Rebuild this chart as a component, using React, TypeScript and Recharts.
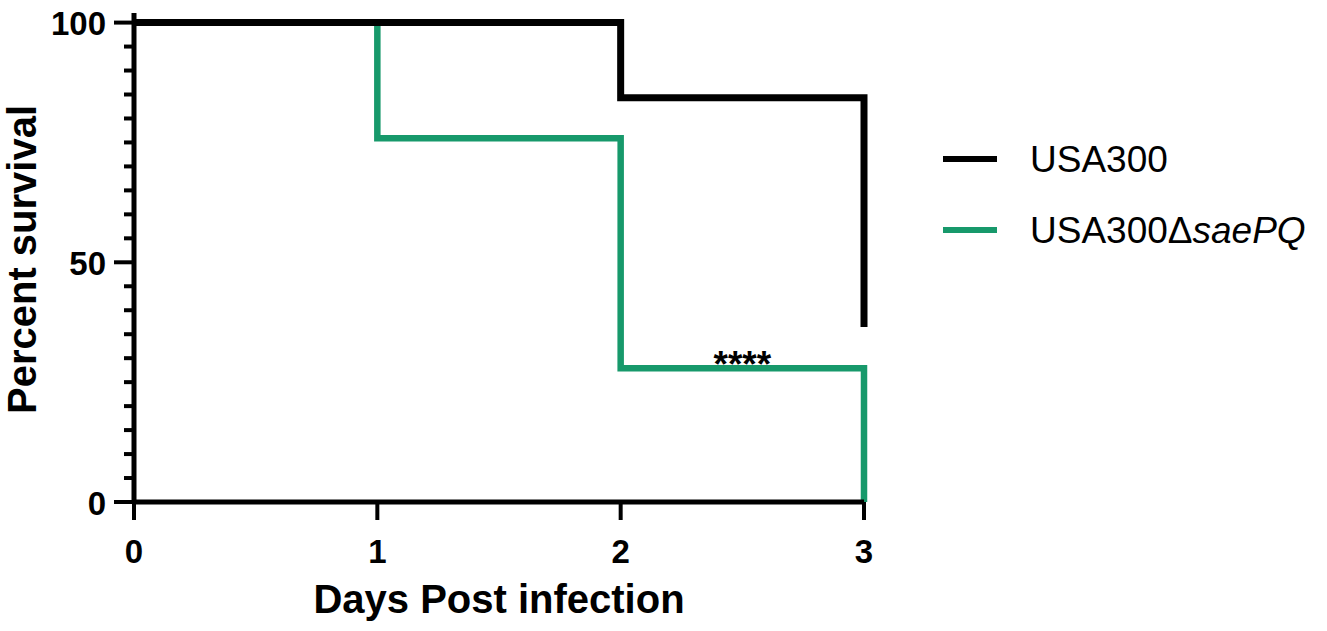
import React from 'react';
import { LineChart, Line, XAxis, YAxis, Legend, ReferenceDot, Label } from 'recharts';

// Kaplan-Meier survival
const xTicks = [0, 1, 2, 3];
const wtDays = [0, 2, 3];
const wtSurvival = [100, 84.3, 36.5];
const mutDays = [0, 1, 2, 3];
const mutSurvival = [100, 75.9, 27.9, 0];
const yMajorTicks = [0, 50, 100];
const yTicks = [0, 5, 10, 15, 20, 25, 30, 35, 40, 45, 50, 55, 60, 65, 70, 75, 80, 85, 90, 95, 100];
const seriesNames = ['USA300', 'USA300\u0394'];
const seriesItalic = ['', 'saePQ'];
const seriesColors = ['#000000', '#17996B'];
const significance = '****';

const FONT = 'Arial, "Liberation Sans", Helvetica, sans-serif';

const wtData = wtDays.map((d, i) => ({ day: d, survival: wtSurvival[i] }));
const mutData = mutDays.map((d, i) => ({ day: d, survival: mutSurvival[i] }));

const YTick = (props: any) => {
    const { x, y, payload } = props;
    const major = yMajorTicks.includes(payload.value);
    return (
        <g>
            <line x1={x} x2={x - (major ? 20 : 10)} y1={y} y2={y} stroke="#000" strokeWidth={4} />
            {major && (
                <text x={x - 28} y={y + 1} dy="0.355em" textAnchor="end" fontFamily={FONT} fontWeight="bold" fontSize={33} fill="#000">
                    {payload.value}
                </text>
            )}
        </g>
    );
};

const XTick = (props: any) => {
    const { x, y, payload } = props;
    return (
        <g>
            <line x1={x} x2={x} y1={y} y2={y + 18} stroke="#000" strokeWidth={4} />
            <text x={x} y={y + 49} dy="0.355em" textAnchor="middle" fontFamily={FONT} fontWeight="bold" fontSize={33} fill="#000">
                {payload.value}
            </text>
        </g>
    );
};

const YTitle = (props: any) => {
    const vb = props.viewBox;
    const cx = vb.x + 36;
    const cy = vb.y + vb.height / 2 + 2;
    return (
        <text x={cx} y={cy} transform={`rotate(-90, ${cx}, ${cy})`} textAnchor="middle" fontFamily={FONT} fontWeight="bold" fontSize={40} fill="#000">
            Percent survival
        </text>
    );
};

const Stars = (props: any) => {
    const vb = props.viewBox;
    return (
        <text x={vb.x} y={vb.y + 9} textAnchor="middle" fontFamily={FONT} fontWeight="bold" fontSize={37} fill="#000">
            {significance}
        </text>
    );
};

const renderLegend = () => (
    <div style={{ fontFamily: FONT }}>
        {seriesNames.map((name, i) => (
            <div key={name} style={{ display: 'flex', alignItems: 'center', height: 71 }}>
                <span style={{ display: 'inline-block', width: 54, height: 6.5, background: seriesColors[i], marginRight: 33 }} />
                <span style={{ fontSize: 37, lineHeight: 1, color: '#000', whiteSpace: 'nowrap' }}>
                    {name}
                    {seriesItalic[i] && <i>{seriesItalic[i]}</i>}
                </span>
            </div>
        ))}
    </div>
);

const App: React.FC = () => {
    return (
        <div style={{ position: 'absolute', left: 0, top: 0, background: '#fff' }}>
            <LineChart width={1327} height={631} margin={{ top: 13, right: 463, bottom: 0, left: 0 }}>
                <XAxis
                    type="number"
                    dataKey="day"
                    domain={[0, 3]}
                    ticks={xTicks}
                    interval={0}
                    height={129}
                    tickSize={0}
                    tickMargin={0}
                    tick={<XTick />}
                    axisLine={{ stroke: '#000', strokeWidth: 5 }}
                    tickLine={false}
                >
                    <Label value="Days Post infection" position="insideBottom" offset={18} fontFamily={FONT} fontWeight="bold" fontSize={40} fill="#000" />
                </XAxis>
                <YAxis
                    type="number"
                    domain={[0, 102]}
                    ticks={yTicks}
                    interval={0}
                    width={134}
                    tickSize={0}
                    tickMargin={0}
                    tick={<YTick />}
                    axisLine={{ stroke: '#000', strokeWidth: 5 }}
                    tickLine={false}
                    label={<YTitle />}
                />
                <Legend
                    layout="vertical"
                    align="center"
                    verticalAlign="middle"
                    content={renderLegend}
                    wrapperStyle={{ left: 943, top: 123.5, width: 384 }}
                />
                {/* mutant drawn first so the wild-type line sits on top at 100% */}
                <Line
                    data={mutData}
                    dataKey="survival"
                    name={seriesNames[1]}
                    type="stepAfter"
                    stroke={seriesColors[1]}
                    strokeWidth={6.5}
                    dot={false}
                    activeDot={false}
                    isAnimationActive={false}
                />
                <Line
                    data={wtData}
                    dataKey="survival"
                    name={seriesNames[0]}
                    type="stepAfter"
                    stroke={seriesColors[0]}
                    strokeWidth={7}
                    dot={false}
                    activeDot={false}
                    isAnimationActive={false}
                />
                <ReferenceDot x={2.5} y={mutSurvival[2]} r={0} fill="none" stroke="none" label={<Stars />} />
            </LineChart>
        </div>
    );
};

export default App;
